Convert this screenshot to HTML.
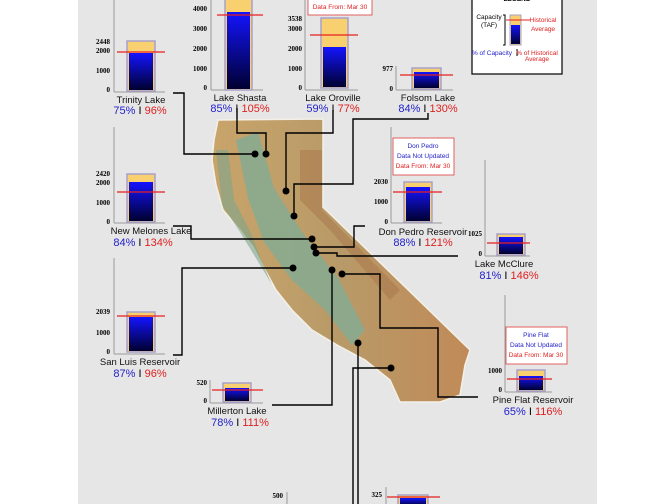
<!DOCTYPE html>
<html><head><meta charset="utf-8"><style>
html,body{margin:0;padding:0;background:#fff;}
svg{display:block;}
.t{font-family:"Liberation Serif",serif;font-weight:bold;font-size:7px;fill:#000;text-anchor:end;}
.n{font-family:"Liberation Sans",sans-serif;font-size:9.5px;fill:#111;text-anchor:middle;}
.p{font-family:"Liberation Sans",sans-serif;font-size:11px;text-anchor:middle;}
.b{fill:#2222cc;}.r{fill:#e02020;}
.s{font-family:"Liberation Sans",sans-serif;font-size:6.5px;text-anchor:middle;}
</style></head><body>
<svg width="672" height="504" viewBox="0 0 672 504" xmlns="http://www.w3.org/2000/svg">
<defs>
<linearGradient id="bl" x1="0" y1="0" x2="0" y2="1"><stop offset="0" stop-color="#1414ff"/><stop offset="1" stop-color="#000030"/></linearGradient>
<linearGradient id="mp" x1="0" y1="0" x2="1" y2="0"><stop offset="0" stop-color="#c8a46a"/><stop offset="0.5" stop-color="#b89a68"/><stop offset="1" stop-color="#c08a58"/></linearGradient>
</defs>
<rect x="0" y="0" width="672" height="504" fill="#fff"/>
<rect x="78" y="0" width="519" height="504" fill="#e6e6e6"/>

<!-- map -->
<polygon fill="url(#mp)" stroke="#f4f0e8" stroke-width="1.5" points="218,120 323,119 323,207 470,350 465,365 460,395 440,402 400,402 390,380 365,360 337,345 312,330 292,310 276,290 264,268 253,247 240,230 223,210 216,185 212,160 214,140"/>
<polygon fill="#86aa92" opacity="0.85" points="236,140 258,132 274,188 302,232 338,278 365,330 352,345 325,310 292,280 264,242 248,198"/>
<polygon fill="#7da58c" opacity="0.6" points="216,150 228,150 234,200 252,235 262,262 272,285 262,268 240,232 222,205"/>
<polygon fill="#a67048" opacity="0.45" points="300,150 322,150 322,210 400,290 390,300 330,230 300,200"/>

<!-- leader lines -->
<g fill="none" stroke="#000" stroke-width="1.4">
<polyline points="173,93 184,93 184,154 255,154"/>
<polyline points="237,108 237,133 266,133 266,154"/>
<polyline points="333,110 333,133 286,133 286,191"/>
<polyline points="428,113 428,119 353,119 353,184 294,184 294,216"/>
<polyline points="173,226 191,226 191,239 312,239"/>
<polyline points="365,226 354,226 354,247 314,247"/>
<polyline points="316,253 337,253 337,256 458,256"/>
<polyline points="173,355 182,355 182,268 293,268"/>
<polyline points="272,405 332,405 332,270"/>
<polyline points="342,274 380,274 380,328 438,328 438,397 478,397"/>
<polyline points="358,343 358,504"/>
<polyline points="391,368 353,368 353,504"/>
</g>
<g fill="#000">
<circle cx="255" cy="154" r="3.5"/><circle cx="266" cy="154" r="3.5"/><circle cx="286" cy="191" r="3.5"/><circle cx="294" cy="216" r="3.5"/><circle cx="312" cy="239" r="3.5"/><circle cx="314" cy="247" r="3.5"/><circle cx="316" cy="253" r="3.5"/><circle cx="293" cy="268" r="3.5"/><circle cx="332" cy="270" r="3.5"/><circle cx="342" cy="274" r="3.5"/><circle cx="358" cy="343" r="3.5"/><circle cx="391" cy="368" r="3.5"/>
</g>

<g stroke="#999" stroke-width="1" fill="none">
<line x1="114" y1="0" x2="114" y2="92"/><line x1="114" y1="92" x2="165" y2="92"/>
<line x1="211" y1="0" x2="211" y2="90"/><line x1="211" y1="90" x2="263" y2="90"/>
<line x1="305" y1="0" x2="305" y2="90"/><line x1="305" y1="90" x2="358" y2="90"/>
<line x1="396" y1="66" x2="396" y2="90"/><line x1="396" y1="90" x2="453" y2="90"/>
<line x1="114" y1="127" x2="114" y2="223"/><line x1="114" y1="223" x2="165" y2="223"/>
<line x1="114" y1="258" x2="114" y2="354"/><line x1="114" y1="354" x2="165" y2="354"/>
<line x1="391" y1="127" x2="391" y2="223"/><line x1="391" y1="223" x2="442" y2="223"/>
<line x1="485" y1="160" x2="485" y2="256"/><line x1="485" y1="256" x2="530" y2="256"/>
<line x1="505" y1="295" x2="505" y2="392"/><line x1="505" y1="392" x2="552" y2="392"/>
<line x1="210" y1="380" x2="210" y2="403"/><line x1="210" y1="403" x2="263" y2="403"/>
<line x1="287" y1="492" x2="287" y2="504"/>
<line x1="386" y1="487" x2="386" y2="504"/>
</g>

<g stroke="#a8a0cc" stroke-width="1.5">
<rect x="127" y="41" width="28" height="50" fill="#f8d070"/>
<rect x="225" y="-5" width="27" height="95" fill="#f8d070"/>
<rect x="321" y="18" width="27" height="70" fill="#f8d070"/>
<rect x="412" y="68" width="29" height="21" fill="#f8d070"/>
<rect x="127" y="174" width="28" height="48" fill="#f8d070"/>
<rect x="127" y="312" width="28" height="40" fill="#f8d070"/>
<rect x="404" y="182" width="28" height="40" fill="#f8d070"/>
<rect x="497" y="234" width="28" height="21" fill="#f8d070"/>
<rect x="517" y="370" width="28" height="21" fill="#f8d070"/>
<rect x="223" y="383" width="28" height="19" fill="#f8d070"/>
<rect x="398" y="495" width="30" height="12" fill="#f8d070"/>
</g>
<g fill="url(#bl)">
<rect x="129" y="53" width="24" height="37"/>
<rect x="227" y="12" width="23" height="77"/>
<rect x="323" y="47" width="23" height="40"/>
<rect x="414" y="72" width="25" height="16"/>
<rect x="129" y="182" width="24" height="39"/>
<rect x="129" y="317" width="24" height="34"/>
<rect x="406" y="187" width="24" height="34"/>
<rect x="499" y="237" width="24" height="17"/>
<rect x="519" y="376" width="24" height="14"/>
<rect x="225" y="388" width="24" height="13"/>
<rect x="400" y="498" width="26" height="8"/>
</g>
<g stroke="#e82020" stroke-width="1.2">
<line x1="117" y1="52" x2="165" y2="52"/>
<line x1="217" y1="15" x2="263" y2="15"/>
<line x1="310" y1="35" x2="358" y2="35"/>
<line x1="400" y1="75" x2="453" y2="75"/>
<line x1="117" y1="192" x2="165" y2="192"/>
<line x1="117" y1="316" x2="165" y2="316"/>
<line x1="393" y1="192" x2="442" y2="192"/>
<line x1="487" y1="243" x2="530" y2="243"/>
<line x1="507" y1="379" x2="552" y2="379"/>
<line x1="212" y1="390" x2="263" y2="390"/>
<line x1="387" y1="497" x2="440" y2="497"/>
</g>

<text class="t" x="110" y="44">2448</text><text class="t" x="110" y="53">2000</text><text class="t" x="110" y="73">1000</text><text class="t" x="110" y="92">0</text>
<text class="t" x="207" y="11">4000</text><text class="t" x="207" y="31">3000</text><text class="t" x="207" y="51">2000</text><text class="t" x="207" y="71">1000</text><text class="t" x="207" y="90">0</text>
<text class="t" x="302" y="21">3538</text><text class="t" x="302" y="31">3000</text><text class="t" x="302" y="51">2000</text><text class="t" x="302" y="71">1000</text><text class="t" x="302" y="90">0</text>
<text class="t" x="393" y="71">977</text><text class="t" x="393" y="91">0</text>
<text class="t" x="110" y="176">2420</text><text class="t" x="110" y="185">2000</text><text class="t" x="110" y="205">1000</text><text class="t" x="110" y="224">0</text>
<text class="t" x="110" y="314">2039</text><text class="t" x="110" y="335">1000</text><text class="t" x="110" y="354">0</text>
<text class="t" x="388" y="184">2030</text><text class="t" x="388" y="204">1000</text><text class="t" x="388" y="224">0</text>
<text class="t" x="482" y="236">1025</text><text class="t" x="482" y="256">0</text>
<text class="t" x="502" y="373">1000</text><text class="t" x="502" y="392">0</text>
<text class="t" x="207" y="385">520</text><text class="t" x="207" y="403">0</text>
<text class="t" x="283" y="498">500</text>
<text class="t" x="382" y="497">325</text>

<text class="n" x="141" y="103">Trinity Lake</text>
<text class="p" x="140" y="114"><tspan class="b">75%</tspan> I <tspan class="r">96%</tspan></text>
<text class="n" x="240" y="101">Lake Shasta</text>
<text class="p" x="240" y="112"><tspan class="b">85%</tspan> I <tspan class="r">105%</tspan></text>
<text class="n" x="333" y="101">Lake Oroville</text>
<text class="p" x="333" y="112"><tspan class="b">59%</tspan> I <tspan class="r">77%</tspan></text>
<text class="n" x="428" y="101">Folsom Lake</text>
<text class="p" x="428" y="112"><tspan class="b">84%</tspan> I <tspan class="r">130%</tspan></text>
<text class="n" x="151" y="234">New Melones Lake</text>
<text class="p" x="143" y="246"><tspan class="b">84%</tspan> I <tspan class="r">134%</tspan></text>
<text class="n" x="140" y="365">San Luis Reservoir</text>
<text class="p" x="140" y="377"><tspan class="b">87%</tspan> I <tspan class="r">96%</tspan></text>
<text class="n" x="423" y="235">Don Pedro Reservoir</text>
<text class="p" x="423" y="246"><tspan class="b">88%</tspan> I <tspan class="r">121%</tspan></text>
<text class="n" x="504" y="267">Lake McClure</text>
<text class="p" x="509" y="279"><tspan class="b">81%</tspan> I <tspan class="r">146%</tspan></text>
<text class="n" x="533" y="403">Pine Flat Reservoir</text>
<text class="p" x="533" y="415"><tspan class="b">65%</tspan>  I  <tspan class="r">116%</tspan></text>
<text class="n" x="237" y="414">Millerton Lake</text>
<text class="p" x="240" y="426"><tspan class="b">78%</tspan> I <tspan class="r">111%</tspan></text>

<rect x="308" y="-2" width="64" height="17" fill="#fff" stroke="#e06060" stroke-width="1"/>
<text class="s r" x="340" y="9">Data From: Mar 30</text>
<rect x="393" y="138" width="61" height="37" fill="#fff" stroke="#e06060" stroke-width="1"/>
<text class="s b" x="423" y="148">Don Pedro</text><text class="s b" x="423" y="158">Data Not Updated</text><text class="s r" x="423" y="168">Data From: Mar 30</text>
<rect x="506" y="327" width="61" height="37" fill="#fff" stroke="#e06060" stroke-width="1"/>
<text class="s b" x="536" y="337">Pine Flat</text><text class="s b" x="536" y="347">Data Not Updated</text><text class="s r" x="536" y="357">Data From: Mar 30</text>

<rect x="472" y="-2" width="90" height="76" fill="#fff" stroke="#000" stroke-width="1.2"/>
<text class="s" x="517" y="1" style="font-weight:bold">LEGEND</text>
<text class="s" x="489" y="19" fill="#000">Capacity</text><text class="s" x="489" y="27" fill="#000">(TAF)</text>
<polyline points="503,15 505,15 505,45 503,45" fill="none" stroke="#000" stroke-width="1"/>
<rect x="510" y="15" width="11" height="30" fill="#f8d070" stroke="#a8a0cc"/>
<rect x="511" y="25" width="9" height="19" fill="url(#bl)"/>
<line x1="506" y1="20" x2="530" y2="20" stroke="#e82020"/>
<text class="s r" x="543" y="22">Historical</text><text class="s r" x="543" y="31">Average</text>
<text class="s b" x="492" y="55">% of Capacity</text>
<line x1="517" y1="49" x2="517" y2="56" stroke="#000"/>
<text class="s r" x="537" y="55">% of Historical</text><text class="s r" x="537" y="61">Average</text>
</svg>
</body></html>
